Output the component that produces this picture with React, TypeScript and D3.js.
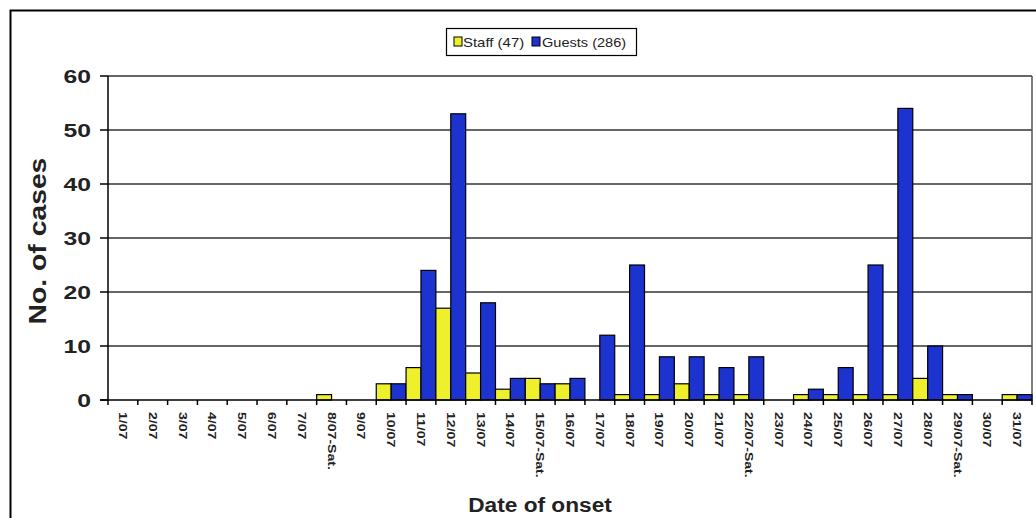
import React from "react";
import * as d3 from "d3";

const categories = ["1/07","2/07","3/07","4/07","5/07","6/07","7/07","8/07-Sat.","9/07","10/07","11/07","12/07","13/07","14/07","15/07-Sat.","16/07","17/07","18/07","19/07","20/07","21/07","22/07-Sat.","23/07","24/07","25/07","26/07","27/07","28/07","29/07-Sat.","30/07","31/07"];
const staff = [0,0,0,0,0,0,0,1,0,3,6,17,5,2,4,3,0,1,1,3,1,1,0,1,1,1,1,4,1,0,1];
const guests = [0,0,0,0,0,0,0,0,0,3,24,53,18,4,3,4,12,25,8,8,6,8,0,2,6,25,54,10,1,0,1];
const yTicks = [0,10,20,30,40,50,60];
const seriesNames = ["Staff (47)", "Guests (286)"];
const colors = ["#EEF02C", "#1D33CF"];

export default function App() {
  const W = 1036, H = 518;
  const left = 108, right = 1032, top = 76, bottom = 400;
  const x = d3.scaleBand<string>().domain(categories).range([left, right]).padding(0);
  const y = d3.scaleLinear().domain([0, 60]).range([bottom, top]);
  const bw = x.bandwidth() / 2;
  const font = "Liberation Sans, Arial, sans-serif";

  return (
    <svg width={W} height={H} style={{ position: "absolute", left: 0, top: 0 }} fontFamily={font}>
      <rect x={0} y={0} width={W} height={H} fill="#fff" />
      <rect x={10.5} y={10.5} width={1040} height={520} fill="none" stroke="#000" strokeWidth={2} />
      {/* gridlines */}
      {yTicks.filter(t => t > 0).map(t => (
        <line key={t} x1={left} x2={right} y1={y(t)} y2={y(t)} stroke="#333" strokeWidth={1.5} />
      ))}
      <line x1={right} x2={right} y1={top} y2={bottom} stroke="#555" strokeWidth={1.5} />
      {/* bars */}
      {categories.map((c, i) => (
        <g key={c}>
          {staff[i] > 0 && (
            <rect x={x(c)!} y={y(staff[i])} width={bw} height={bottom - y(staff[i])} fill={colors[0]} stroke="#000" strokeWidth={1.2} />
          )}
          {guests[i] > 0 && (
            <rect x={x(c)! + bw} y={y(guests[i])} width={bw} height={bottom - y(guests[i])} fill={colors[1]} stroke="#000" strokeWidth={1.2} />
          )}
        </g>
      ))}
      {/* axes */}
      <line x1={left} x2={left} y1={top} y2={bottom} stroke="#000" strokeWidth={1.5} />
      <line x1={left - 8} x2={right} y1={bottom} y2={bottom} stroke="#000" strokeWidth={1.5} />
      {yTicks.map(t => (
        <g key={t}>
          <line x1={left - 8} x2={left} y1={y(t)} y2={y(t)} stroke="#000" strokeWidth={1.5} />
          <text transform={`translate(91,${y(t)}) scale(1.3,1)`} dy="0.36em" textAnchor="end" fontSize={19} fontWeight="bold" fill="#222">{t}</text>
        </g>
      ))}
      {categories.map(c => (
        <line key={"t" + c} x1={x(c)!} x2={x(c)!} y1={bottom} y2={bottom + 5} stroke="#000" strokeWidth={1.5} />
      ))}
      <line x1={right} x2={right} y1={bottom} y2={bottom + 5} stroke="#000" strokeWidth={1.5} />
      {categories.map(c => (
        <text key={"l" + c} transform={`translate(${x(c)! + x.bandwidth() / 2},${412}) rotate(90) scale(1.28,1)`} dy="0.36em" fontSize={11} fontWeight="bold" fill="#222">{c}</text>
      ))}
      <text transform="translate(540,512) scale(1.08,1)" textAnchor="middle" fontSize={21} fontWeight="bold" fill="#222">Date of onset</text>
      <text transform={`translate(37,241) rotate(-90) scale(1.18,1)`} textAnchor="middle" dy="0.36em" fontSize={24} fontWeight="bold" fill="#222">No. of cases</text>
      {/* legend */}
      <rect x={446.5} y={28.5} width={190} height={27} fill="#fff" stroke="#000" strokeWidth={1.2} />
      <rect x={454} y={37} width={8} height={9} fill={colors[0]} stroke="#000" strokeWidth={1} />
      <text transform="translate(463,42) scale(1.15,1)" dy="0.36em" fontSize={13} fill="#222">{seriesNames[0]}</text>
      <rect x={532} y={37} width={8} height={9} fill={colors[1]} stroke="#000" strokeWidth={1} />
      <text transform="translate(542,42) scale(1.12,1)" dy="0.36em" fontSize={13} fill="#222">{seriesNames[1]}</text>
    </svg>
  );
}
